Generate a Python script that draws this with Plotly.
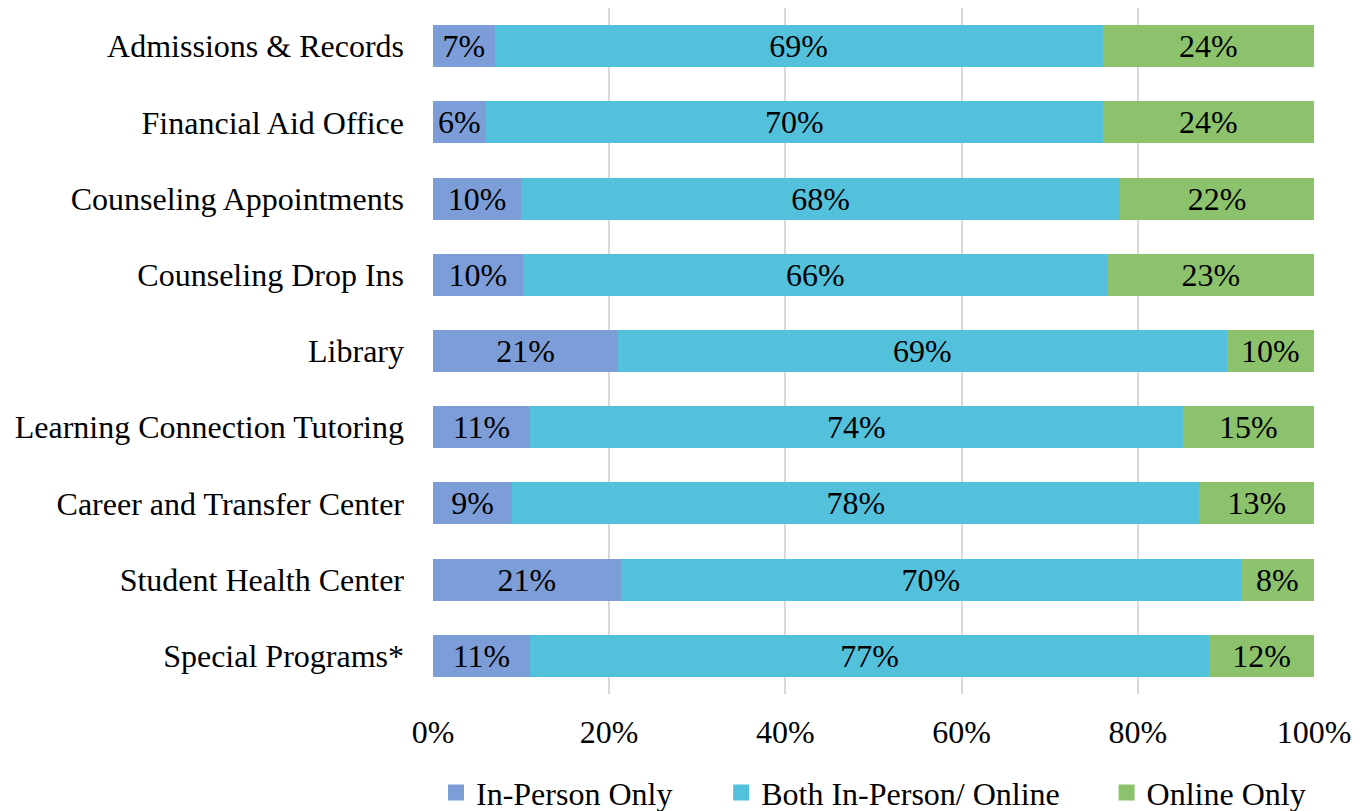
import plotly.graph_objects as go

categories = [
    "Admissions & Records",
    "Financial Aid Office",
    "Counseling Appointments",
    "Counseling Drop Ins",
    "Library",
    "Learning Connection Tutoring",
    "Career and Transfer Center",
    "Student Health Center",
    "Special Programs*",
]
in_person_only = [7.0, 6.0, 10.0, 10.2, 21.0, 11.0, 9.0, 21.3, 11.0]
both_in_person_online = [69.0, 70.0, 68.0, 66.4, 69.1, 74.1, 78.0, 70.4, 77.1]
online_only = [24.0, 24.0, 22.0, 23.4, 9.9, 14.9, 13.0, 8.3, 11.9]

series_names = ["In-Person Only", "Both In-Person/ Online", "Online Only"]
series_values = [in_person_only, both_in_person_online, online_only]
series_colors = ["#7C9DD7", "#53C0DC", "#8CC26B"]
legend_ids = ["legend", "legend2", "legend3"]
legend_x = [0.0034, 0.3271, 0.7646]

FONT = "Liberation Serif"
FS = 32

fig = go.Figure()
for name, vals, color in zip(series_names, series_values, series_colors):
    fig.add_trace(go.Bar(
        y=categories,
        x=vals,
        name=name,
        orientation="h",
        showlegend=False,
        marker=dict(color=color, line=dict(width=0)),
        text=[f"{v:.0f}%" for v in vals],
        textposition="inside",
        insidetextanchor="middle",
        constraintext="none",
        textfont=dict(family=FONT, size=FS, color="black"),
    ))

# legend entries (square swatches like the original)
for name, color, lg in zip(series_names, series_colors, legend_ids):
    fig.add_trace(go.Scatter(
        x=[None],
        y=[None],
        mode="markers",
        name=name,
        legend=lg,
        showlegend=True,
        marker=dict(symbol="square", size=16, color=color, line=dict(width=0)),
    ))

legend_common = dict(
    orientation="h",
    xanchor="left",
    y=-0.144,
    yanchor="middle",
    font=dict(family=FONT, size=FS, color="black"),
    itemwidth=30,
    bgcolor="rgba(0,0,0,0)",
)

fig.update_layout(
    barmode="stack",
    bargap=0.45,
    width=1360,
    height=803,
    margin=dict(l=425, r=54, t=0, b=117, autoexpand=False),
    plot_bgcolor="white",
    paper_bgcolor="white",
    font=dict(family=FONT, size=FS, color="black"),
    showlegend=True,
    legend=dict(x=legend_x[0], **legend_common),
    legend2=dict(x=legend_x[1], **legend_common),
    legend3=dict(x=legend_x[2], **legend_common),
)
fig.update_xaxes(
    range=[0, 100],
    tickvals=[0, 20, 40, 60, 80, 100],
    ticktext=["0%", "20%", "40%", "60%", "80%", "100%"],
    showgrid=True,
    gridcolor="#D9D9D9",
    gridwidth=1.5,
    zeroline=False,
    showline=False,
    ticks="",
    ticklabelstandoff=16,
    tickfont=dict(family=FONT, size=FS),
)
fig.update_yaxes(
    categoryorder="array",
    categoryarray=categories,
    autorange="reversed",
    showgrid=False,
    showline=False,
    ticks="",
    ticklabelstandoff=28,
    tickfont=dict(family=FONT, size=FS),
)

fig.write_html("out.html")
